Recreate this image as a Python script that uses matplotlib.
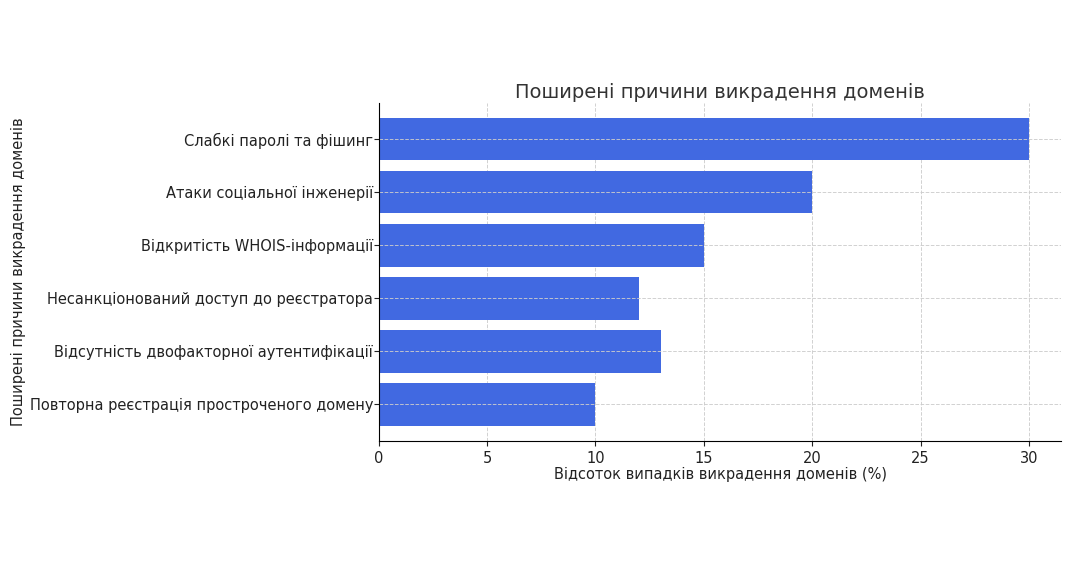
import matplotlib.pyplot as plt

causes = [
    "Слабкі паролі та фішинг",
    "Атаки соціальної інженерії",
    "Відкритість WHOIS-інформації",
    "Несанкціонований доступ до реєстратора",
    "Відсутність двофакторної аутентифікації",
    "Повторна реєстрація простроченого домену",
]
percent = [30, 20, 15, 12, 13, 10]

plt.rcParams['font.family'] = ['DejaVu Sans']

fig = plt.figure(figsize=(10.7, 5.61), dpi=100)
ax = fig.add_axes([0.354, 0.214, 0.638, 0.603])

ax.barh(causes, percent, color='royalblue', height=0.8)
ax.invert_yaxis()
ax.set_axisbelow(True)
ax.yaxis.set_zorder(3)   # horizontal grid shows over the bars, vertical one doesn't
ax.grid(True, linestyle='--', color='#cccccc', linewidth=0.7, alpha=0.9)

ax.set_title("Поширені причини викрадення доменів", fontsize=14, color='#333333', pad=3)
ax.set_xlabel("Відсоток випадків викрадення доменів (%)", fontsize=10.5, color='#222222', labelpad=1)
ax.set_ylabel("Поширені причини викрадення доменів", fontsize=10.5, color='#222222', labelpad=3)
ax.tick_params(labelsize=10.5, colors='#222222')
ax.tick_params(axis='y', pad=0.5)
ax.set_xlim(0, 31.5)
ax.spines['top'].set_visible(False)
ax.spines['right'].set_visible(False)
ax.spines['left'].set_zorder(4)

fig.savefig('out.png', dpi=100)
